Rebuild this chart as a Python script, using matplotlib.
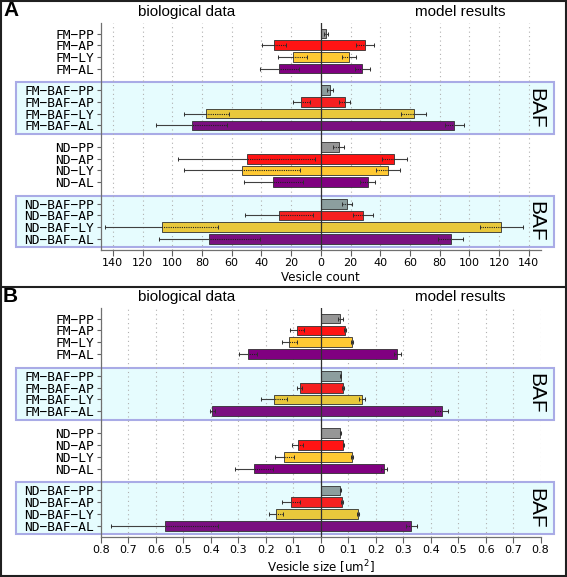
import numpy as np
import matplotlib
matplotlib.use("Agg")
import matplotlib.pyplot as plt
from matplotlib.patches import Rectangle
from matplotlib import transforms

# -----------------------------
# data
# -----------------------------
group_labels = [
    ["FM−PP", "FM−AP", "FM−LY", "FM−AL"],
    ["FM−BAF−PP", "FM−BAF−AP", "FM−BAF−LY", "FM−BAF−AL"],
    ["ND−PP", "ND−AP", "ND−LY", "ND−AL"],
    ["ND−BAF−PP", "ND−BAF−AP", "ND−BAF−LY", "ND−BAF−AL"],
]
baf_groups = [1, 3]

# vesicle count
count_bio = [[0, 31.5, 19, 28], [0, 13, 77, 87], [0, 50, 53, 32], [0, 28, 107, 75]]
count_bio_err = [[0, 8, 10, 13], [0, 6, 15, 24], [0, 46, 39, 20], [0, 23, 38, 34]]
count_model = [[3.5, 29.5, 19, 28], [6, 16, 62.5, 90], [12, 49.5, 45.5, 31.5], [17.5, 28.5, 121.5, 87.5]]
count_model_err = [[1.5, 6, 4.5, 5], [2, 3.5, 8.5, 6.5], [3.5, 8.5, 8, 5], [3.5, 6.5, 14.5, 8.5]]

# vesicle size
size_bio = [[0, 0.087, 0.115, 0.265], [0, 0.077, 0.17, 0.395], [0, 0.084, 0.133, 0.244], [0, 0.109, 0.162, 0.568]]
size_bio_err = [[0, 0.026, 0.028, 0.033], [0, 0.008, 0.046, 0.01], [0, 0.021, 0.034, 0.07], [0, 0.033, 0.025, 0.195]]
size_model = [[0.071, 0.088, 0.113, 0.279], [0.072, 0.08, 0.15, 0.44], [0.071, 0.082, 0.113, 0.23], [0.071, 0.076, 0.134, 0.33]]
size_model_err = [[0.01, 0.004, 0.003, 0.012], [0.002, 0.003, 0.01, 0.024], [0.001, 0.002, 0.003, 0.01], [0.002, 0.003, 0.004, 0.02]]

colors_plain = ["#969696", "#ff1414", "#ffc933", "#800080"]
colors_baf = ["#8c9e9e", "#f52020", "#e8c83c", "#7a1080"]

W, H = 567, 577
GROUP_STEP = 4.85

fig = plt.figure(figsize=(W / 100, H / 100), dpi=100)
fig.patch.set_facecolor("white")


def fx(px):
    return px / W


def fy(py):
    return 1 - py / H


def draw_errors(ax, y, ends, errs, sign):
    for yy, e, err in zip(y, ends, errs):
        if err <= 0:
            continue
        outer = sign * (e + err)
        inner = sign * (e - err)
        end = sign * e
        ax.plot([end, outer], [yy, yy], color="#404040", lw=0.8, zorder=4)
        ax.plot([inner, end], [yy, yy], color="#202020", lw=0.8, ls=(0, (1, 1)), zorder=4)
        ax.plot([inner, outer], [yy, yy], ls="none", marker="|", ms=3,
                mew=0.7, color="#303030", zorder=4)


def panel(top_px, bottom_px, letter, bio, bio_err, model, model_err, lim, ticks, ticklabels, xlabel):
    ax = fig.add_axes([fx(101), fy(bottom_px), fx(540.6) - fx(101), (bottom_px - top_px) / H])
    ax.patch.set_visible(False)

    ypos, labels = [], []
    for g in range(4):
        y = np.arange(4) + g * GROUP_STEP
        cols = colors_baf if g in baf_groups else colors_plain
        b = np.array(bio[g])
        m = np.array(model[g])
        ax.barh(y, -b, height=0.82, color=cols, edgecolor="#303030", linewidth=0.6, zorder=3)
        ax.barh(y, m, height=0.82, color=cols, edgecolor="#303030", linewidth=0.6, zorder=3)
        draw_errors(ax, y, b, bio_err[g], -1)
        draw_errors(ax, y, m, model_err[g], 1)
        ypos += list(y)
        labels += group_labels[g]

    # BAF 박스
    trans = transforms.blended_transform_factory(fig.transFigure, ax.transData)
    for g in baf_groups:
        y0 = g * GROUP_STEP
        ax.add_patch(Rectangle((fx(16), y0 - 0.68), fx(554) - fx(16), 3 + 1.38,
                               transform=trans, facecolor="#e6fcfe", edgecolor="#a9abe6",
                               linewidth=1.5, clip_on=False, zorder=0.2))
        ax.text(fx(536), y0 + 1.5, "BAF", transform=trans, rotation=270,
                ha="center", va="center", fontsize=15, family="Liberation Sans")

    ax.axvline(0, color="#303030", lw=0.9, zorder=5)
    ax.set_xlim(-lim, lim)
    ax.set_ylim(3 * GROUP_STEP + 3 + 0.95, -0.9)
    ax.set_xticks(ticks)
    ax.set_xticklabels(ticklabels, fontsize=8, family="DejaVu Sans")
    ax.set_yticks(ypos)
    ax.set_yticklabels(labels, fontsize=9.3, family="DejaVu Sans Mono")
    ax.set_axisbelow(True)
    ax.xaxis.grid(True, linestyle=(0, (1, 3)), color="#b0b0b0", lw=0.8)
    for s in ["top", "right"]:
        ax.spines[s].set_visible(False)
    for s in ["left", "bottom"]:
        ax.spines[s].set_color("#707070")
        ax.spines[s].set_linewidth(0.9)
    ax.tick_params(axis="x", length=4, width=0.8, color="#606060", pad=2)
    ax.tick_params(axis="y", length=3, width=0.8, color="#606060", pad=2)
    ax.set_xlabel(xlabel, fontsize=8.6, family="DejaVu Sans", labelpad=2)

    fig.text(fx(3), fy(top_px - 12), letter, fontsize=15, fontweight="bold",
             family="Liberation Sans", ha="left", va="center")
    fig.text(fx(187), fy(top_px - 11), "biological data", fontsize=11,
             family="Liberation Sans", ha="center", va="center")
    fig.text(fx(460), fy(top_px - 11), "model results", fontsize=11,
             family="Liberation Sans", ha="center", va="center")
    return ax


count_ticks = np.arange(-140, 141, 20)
count_ticklabels = [str(abs(t)) for t in count_ticks]
size_ticks = np.round(np.arange(-0.8, 0.81, 0.1), 1)
size_ticklabels = ["0" if t == 0 else f"{abs(t):.1f}" for t in size_ticks]

panel(23, 250, "A", count_bio, count_bio_err, count_model, count_model_err,
      148, count_ticks, count_ticklabels, "Vesicle count")
panel(308, 537, "B", size_bio, size_bio_err, size_model, size_model_err,
      0.8, size_ticks, size_ticklabels, "Vesicle size [um$^2$]")

# 테두리
fig.add_artist(Rectangle((0.001, 0.001), 0.997, 0.997, transform=fig.transFigure,
                         fill=False, edgecolor="#202020", linewidth=1.5))
fig.add_artist(plt.Line2D([0, 1], [fy(287), fy(287)], transform=fig.transFigure,
                          color="#202020", linewidth=1.5))

plt.savefig("out.png", dpi=100)
